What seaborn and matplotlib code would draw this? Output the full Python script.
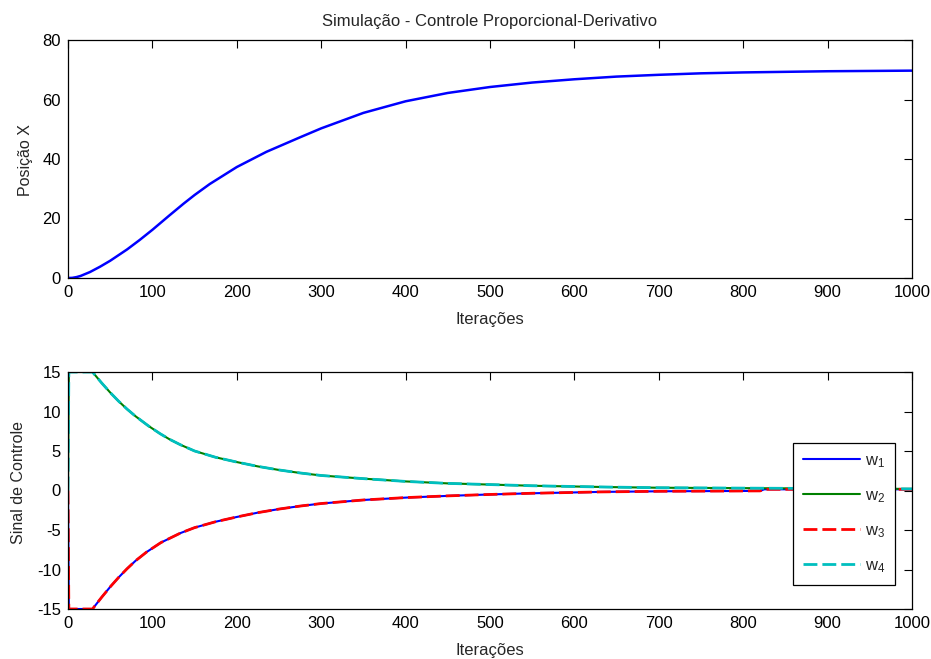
import matplotlib
matplotlib.use("Agg")
import matplotlib.pyplot as plt
import seaborn as sns
import numpy as np

# ---- data ----
iter_pos = [0, 5, 10, 15, 26, 38, 50, 70, 85, 100, 120, 137, 150, 168, 200, 235,
            275, 300, 350, 400, 450, 500, 550, 600, 650, 700, 750, 800, 850, 900,
            950, 1000]
pos_x = [0, 0.05, 0.3, 0.7, 2.0, 3.8, 5.8, 9.6, 12.8, 16.2, 21.0, 25.0, 27.9,
         31.6, 37.3, 42.4, 47.3, 50.3, 55.5, 59.4, 62.2, 64.2, 65.7, 66.8, 67.7,
         68.3, 68.8, 69.1, 69.3, 69.5, 69.6, 69.7]

iter_up = [0, 1, 29, 40, 50, 60, 70, 80, 95, 109, 120, 133, 150, 175, 200, 225,
           250, 275, 300, 350, 400, 450, 500, 550, 630, 700, 800, 900, 1000]
w_up = [0, 15, 15, 13.6, 12.4, 11.3, 10.3, 9.4, 8.2, 7.2, 6.5, 5.8, 5.0, 4.2,
        3.6, 3.05, 2.6, 2.22, 1.9, 1.5, 1.15, 0.9, 0.75, 0.6, 0.45, 0.35, 0.3,
        0.25, 0.2]

iter_lo = [0, 1, 29, 40, 50, 60, 70, 80, 93, 110, 133, 150, 175, 200, 225, 250,
           275, 300, 350, 400, 450, 500, 550, 630, 700, 820, 825, 1000]
w_lo = [0, -15, -15, -13.5, -12.2, -11.0, -9.9, -8.9, -7.8, -6.6, -5.4, -4.7,
        -3.95, -3.35, -2.8, -2.35, -1.97, -1.65, -1.2, -0.9, -0.68, -0.5, -0.35,
        -0.18, -0.1, -0.05, 0.15, 0.15]

labels = [r'$\mathregular{w_1}$', r'$\mathregular{w_2}$',
          r'$\mathregular{w_3}$', r'$\mathregular{w_4}$']

sns.set_style("white")
plt.rcParams['font.family'] = ['Liberation Sans', 'DejaVu Sans']
plt.rcParams['mathtext.fontset'] = 'custom'
plt.rcParams['mathtext.rm'] = 'Liberation Sans'
plt.rcParams['axes.unicode_minus'] = False

FS = 12
DASH = (0, (5.0, 1.8))
fig = plt.figure(figsize=(9.31, 6.59), dpi=100)
ax1 = fig.add_axes([68/931, 1-278/659, 844/931, 238/659])
ax2 = fig.add_axes([68/931, 1-609/659, 844/931, 237/659])

sns.lineplot(x=iter_pos, y=pos_x, ax=ax1, color='#0000ff', linewidth=1.8)
ax1.set_xlim(0, 1000)
ax1.set_ylim(0, 80)
ax1.set_xticks(np.arange(0, 1001, 100))
ax1.set_yticks(np.arange(0, 81, 20))
ax1.set_title('Simulação - Controle Proporcional-Derivativo', fontsize=FS, pad=10)
ax1.set_xlabel('Iterações', fontsize=FS, labelpad=9)
ax1.set_ylabel('Posição X', fontsize=11.5)
ax1.yaxis.set_label_coords(-0.041, 0.496)

sns.lineplot(x=iter_lo, y=w_lo, ax=ax2, color='#0000ff', linewidth=1.5, label=labels[0])
sns.lineplot(x=iter_up, y=w_up, ax=ax2, color='#008000', linewidth=1.5, label=labels[1])
sns.lineplot(x=iter_lo, y=w_lo, ax=ax2, color='#ff0000', linewidth=2.0, linestyle=DASH,
             label=labels[2])
sns.lineplot(x=iter_up, y=w_up, ax=ax2, color='#00bfbf', linewidth=2.0, linestyle=DASH,
             label=labels[3])
ax2.set_xlim(0, 1000)
ax2.set_ylim(-15, 15)
ax2.set_xticks(np.arange(0, 1001, 100))
ax2.set_yticks(np.arange(-15, 16, 5))
ax2.set_xlabel('Iterações', fontsize=FS, labelpad=9)
ax2.set_ylabel('Sinal de Controle', fontsize=11.5)
ax2.yaxis.set_label_coords(-0.050, 0.532)

leg = ax2.legend(loc='upper left', bbox_to_anchor=(0.859, 0.70), fontsize=FS,
                 frameon=True, fancybox=False, framealpha=1, edgecolor='black',
                 handlelength=3.4, labelspacing=1.1, borderpad=0.6,
                 handletextpad=0.3, borderaxespad=0)
leg.get_frame().set_linewidth(0.9)

for ax in (ax1, ax2):
    ax.tick_params(direction='in', length=6, width=0.8, top=True, right=True,
                   labelsize=FS, colors='black', pad=5)
    for s in ax.spines.values():
        s.set_visible(True)
        s.set_color('black')
        s.set_linewidth(0.9)

fig.savefig('out.png', dpi=100, facecolor='white')
